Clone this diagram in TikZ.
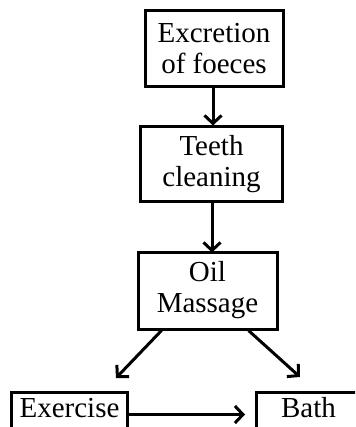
\documentclass[tikz,border=0pt]{standalone}
\usepackage{fontspec}
\setmainfont{Liberation Serif}
\usetikzlibrary{arrows.meta}

\tikzset{
  stepbox/.style={draw, line width=3pt, rectangle, align=center,
    font=\fontsize{29}{31}\selectfont, inner sep=0pt},
  arr/.style={line width=3pt, -{Straight Barb[length=8pt,width=17pt]}},
}

\begin{document}
\begin{tikzpicture}[x=1pt,y=-1pt]
  \useasboundingbox (0,0) rectangle (355,427);
  \clip (0,0) rectangle (355,427);

  % vertical chain
  \node[stepbox, minimum width=138pt, minimum height=76pt] (ex1) at (214,49)
    {Excretion\\of foeces};
  \node[stepbox, minimum width=142pt, minimum height=75pt] (teeth) at (211.5,164.5)
    {Teeth\\cleaning};
  \node[stepbox, minimum width=139pt, minimum height=77pt] (oil) at (207.5,290.5)
    {Oil\\Massage};

  % bottom row (boxes run past the lower edge)
  \node[stepbox, anchor=north west, minimum width=116pt,
        text height=25pt, text depth=19pt] (exer) at (10,391) {Exercise};
  \node[stepbox, anchor=north west, minimum width=104pt,
        text height=25pt, text depth=19pt] (bath) at (255,391) {Bath};

  % connectors
  \draw[arr] (ex1.south -| 213,0) -- (teeth.north -| 213,0);
  \draw[arr] (teeth.south -| 212,0) -- ([yshift=-2pt]oil.north -| 212,0);
  \draw[arr] ([xshift=25pt]oil.south west) -- ([xshift=-13pt,yshift=13pt]exer.north east);
  \draw[arr] ([xshift=-30pt]oil.south east) -- ([xshift=45pt,yshift=14pt]bath.north west);
  \draw[arr, shorten >=10pt] (exer.east) -- (bath.west);
\end{tikzpicture}
\end{document}
